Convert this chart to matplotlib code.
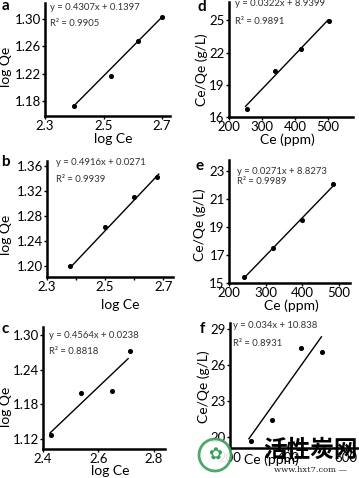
import matplotlib
matplotlib.use('Agg')
import matplotlib.pyplot as plt
from matplotlib.patches import Circle
from matplotlib.transforms import IdentityTransform

W, H = 359, 478

plt.rcParams['font.family'] = ['Lato', 'DejaVu Sans']

# panel data
a_x = [2.40, 2.525, 2.617, 2.698]
a_y = [1.173, 1.217, 1.267, 1.302]
b_x = [2.38, 2.50, 2.60, 2.68]
b_y = [1.199, 1.262, 1.311, 1.343]
c_x = [2.429, 2.537, 2.648, 2.713]
c_y = [1.127, 1.199, 1.203, 1.272]
d_x = [254, 339, 417, 503]
d_y = [16.7, 20.26, 22.3, 24.9]
e_x = [241, 320, 398, 484]
e_y = [15.45, 17.5, 19.5, 22.05]
f_x = [271, 346, 444, 516]
f_y = [19.7, 21.45, 27.45, 27.1]

fits = {
    'a': (0.4307, 0.1397), 'b': (0.4916, 0.0271), 'c': (0.4564, 0.0238),
    'd': (0.0322, 8.9399), 'e': (0.0271, 8.8273), 'f': (0.034, 10.838),
}
eq_text = {
    'a': 'y = 0.4307x + 0.1397', 'b': 'y = 0.4916x + 0.0271',
    'c': 'y = 0.4564x + 0.0238', 'd': 'y = 0.0322x + 8.9399',
    'e': 'y = 0.0271x + 8.8273', 'f': 'y = 0.034x + 10.838',
}
r2_vals = {'a': '0.9905', 'b': '0.9939', 'c': '0.8818',
           'd': '0.9891', 'e': '0.9989', 'f': '0.8931'}

fig = plt.figure(figsize=(W / 100, H / 100), dpi=100)


def rect(l, t, r, b):
    return [l / W, 1 - b / H, (r - l) / W, (b - t) / H]


def ftext(x, y, s, **kw):
    fig.text(x / W, 1 - y / H, s, **kw)


panels = [
    # key, data, box, xlim, ylim, xticks, yticks, line range
    ('a', a_x, a_y, (45, 3, 170, 116), (2.3, 2.727), (1.158, 1.323),
     [2.3, 2.5, 2.7], [1.18, 1.22, 1.26, 1.30], (2.40, 2.70)),
    ('b', b_x, b_y, (47, 161, 173, 277), (2.3, 2.734), (1.182, 1.368),
     [2.3, 2.5, 2.7], [1.20, 1.24, 1.28, 1.32, 1.36], (2.38, 2.685)),
    ('c', c_x, c_y, (43, 327, 165, 449), (2.4, 2.84), (1.103, 1.314),
     [2.4, 2.6, 2.8], [1.12, 1.18, 1.24, 1.30], (2.425, 2.707)),
    ('d', d_x, d_y, (229, 2, 353, 117), (200, 575), (16, 26.7),
     [200, 300, 400, 500], [16, 19, 22, 25], (250, 500)),
    ('e', e_x, e_y, (229, 160, 350, 283), (200, 530), (15, 23.8),
     [200, 300, 400, 500], [15, 17, 19, 21, 23], (241, 484)),
    ('f', f_x, f_y, (230, 323, 358, 448), (200, 641), (19.08, 29.5),
     [200, 400, 600], [20, 23, 26, 29], (265, 515)),
]

for key, xs, ys, box, xl, yl, xt, yt, lr in panels:
    ax = fig.add_axes(rect(*box))
    ax.scatter(xs, ys, s=7, color='black', zorder=3)
    k, b0 = fits[key]
    ax.plot(lr, [k * lr[0] + b0, k * lr[1] + b0], color='black', lw=1.0)
    ax.set_xlim(*xl)
    ax.set_ylim(*yl)
    ax.set_xticks(xt)
    ax.set_yticks(yt)
    if key in 'abc':
        ax.set_yticklabels(['%.2f' % v for v in yt])
        ax.set_xticklabels(['%.1f' % v for v in xt])
    if key == 'b':
        ax.set_xticks([2.4, 2.6], minor=True)
    for s in ('top', 'right'):
        ax.spines[s].set_visible(False)
    for s in ('left', 'bottom'):
        ax.spines[s].set_linewidth(1.8)
    ax.tick_params(which='both', direction='out', length=2.5, width=1,
                   labelsize=9.5, pad=0.5)

# equation / R2 texts
eq_pos = {'a': (50, 7, 24), 'b': (56, 163, 180), 'c': (49, 335, 352),
          'd': (235, 4, 22), 'e': (237, 171, 181), 'f': (233, 326, 343)}
for key, (x, y1, y2) in eq_pos.items():
    ftext(x, y1, eq_text[key], fontsize=6.8, color='#333333', va='center')
    ftext(x, y2, 'R² = ' + r2_vals[key], fontsize=6.8, color='#333333',
          va='center')

# panel letters
letters = {'a': (5, 6), 'b': (5, 162), 'c': (5, 329),
           'd': (202, 7), 'e': (200, 166), 'f': (202, 329)}
for key, (x, y) in letters.items():
    ftext(x, y, key, fontsize=11, fontweight='bold', ha='center', va='center')

# axis labels
ylabs = [('log Qe', 6, 67), ('log Qe', 6, 235), ('log Qe', 6, 407),
         ('Ce/Qe (g/L)', 202, 70), ('Ce/Qe (g/L)', 200, 225),
         ('Ce/Qe (g/L)', 204, 387)]
for s, x, y in ylabs:
    ftext(x, y, s, fontsize=10, rotation=90, ha='center', va='center')
xlabs = [('log Ce', 113, 139), ('log Ce', 120, 305), ('log Ce', 110, 471),
         ('Ce (ppm)', 287, 140), ('Ce (ppm)', 291, 306),
         ('Ce (ppm)', 271, 460)]
for s, x, y in xlabs:
    ftext(x, y, s, fontsize=10, ha='center', va='center')

# watermark
fig.patches.append(Circle((215, H - 455), 16, transform=IdentityTransform(),
                          facecolor='white', edgecolor='#3aa05a', lw=2,
                          alpha=0.9, zorder=10))
ftext(215, 455, '✿', fontsize=12, color='#3aa05a', ha='center', va='center',
      family=['DejaVu Sans'], zorder=11)
ftext(310, 450, '活性炭网', fontsize=17, fontweight='bold', ha='center',
      va='center', family=['Noto Sans CJK SC', 'DejaVu Sans'], zorder=11)
ftext(310, 470, 'www.hxt7.com —', fontsize=6, ha='center', va='center',
      family=['DejaVu Serif'], color='#222222', zorder=11)

fig.savefig('out.png', dpi=100)
